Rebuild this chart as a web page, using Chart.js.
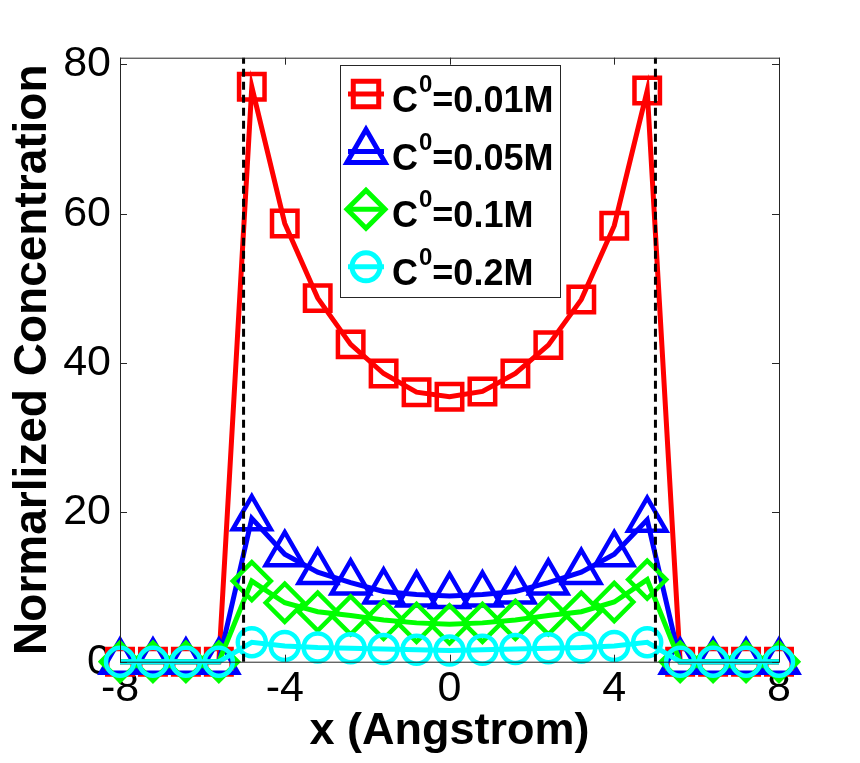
<!DOCTYPE html>
<html>
<head>
<meta charset="utf-8">
<script src="https://cdn.jsdelivr.net/npm/chart.js@4.4.0/dist/chart.umd.min.js"></script>
<style>
  html, body { margin: 0; padding: 0; background: #fff; }
  #wrap { width: 860px; height: 763px; }
</style>
</head>
<body>
<div id="wrap"><canvas id="myChart"></canvas></div>
<script>
// x positions (Angstrom), same for every curve
var xPos = [-8, -7.2, -6.4, -5.6, -4.8, -4, -3.2, -2.4, -1.6, -0.8, 0, 0.8, 1.6, 2.4, 3.2, 4, 4.8, 5.6, 6.4, 7.2, 8];
var c001 = [0, 0, 0, 0, 77.0, 58.7, 48.7, 42.5, 38.6, 36.1, 35.5, 36.2, 38.6, 42.4, 48.5, 58.4, 76.5, 0, 0, 0, 0];
var c005 = [0, 0, 0, 0, 19.2, 14.4, 12.0, 10.6, 9.4, 9.0, 8.8, 9.0, 9.4, 10.6, 12.0, 14.4, 19.0, 0, 0, 0, 0];
var c01 = [0, 0, 0, 0, 10.8, 7.9, 6.7, 6.2, 5.6, 5.2, 5.0, 5.2, 5.6, 6.2, 6.7, 8.0, 11.0, 0, 0, 0, 0];
var c02 = [0, 0, 0, 0, 2.6, 2.1, 1.9, 1.8, 1.7, 1.6, 1.5, 1.6, 1.7, 1.8, 1.9, 2.1, 2.6, 0, 0, 0, 0];
var concLabels = ["0.01M", "0.05M", "0.1M", "0.2M"];
var xTicks = [-8, -4, 0, 4, 8];
var yTicks = [0, 20, 40, 60, 80];
var wallX = [-5, 5];
var yTop = 80.9;

var FONT = "'Liberation Sans', Arial, sans-serif";

function toPoints(ys) {
  return xPos.map(function (x, i) { return { x: x, y: ys[i] }; });
}

function series(label, ys, color, style, radius, order) {
  return {
    label: label,
    data: toPoints(ys),
    borderColor: color,
    backgroundColor: color,
    borderWidth: 5,
    pointStyle: style,
    pointRadius: radius,
    pointBorderWidth: 4.5,
    pointBorderColor: color,
    pointBackgroundColor: "rgba(0,0,0,0)",
    tension: 0,
    clip: false,
    order: order
  };
}

function wall(x) {
  return {
    label: "",
    data: [{ x: x, y: 0 }, { x: x, y: yTop }],
    borderColor: "#000",
    borderWidth: 3,
    borderDash: [8, 5],
    pointRadius: 0,
    clip: false,
    order: 0,
    isWall: true
  };
}

// axes box with inward ticks, drawn over the curves like matlab does
var framePlugin = {
  id: "frame",
  afterDatasetsDraw: function (chart) {
    var ctx = chart.ctx, a = chart.chartArea;
    var sx = chart.scales.x, sy = chart.scales.y;
    var len = 7;
    ctx.save();
    ctx.strokeStyle = "#262626";
    ctx.lineWidth = 1;
    ctx.strokeRect(a.left + 0.5, a.top + 0.5, a.right - a.left, a.bottom - a.top);
    ctx.beginPath();
    xTicks.forEach(function (v) {
      var px = Math.round(sx.getPixelForValue(v)) + 0.5;
      ctx.moveTo(px, a.bottom); ctx.lineTo(px, a.bottom - len);
      ctx.moveTo(px, a.top); ctx.lineTo(px, a.top + len);
    });
    yTicks.forEach(function (v) {
      var py = Math.round(sy.getPixelForValue(v)) + 0.5;
      ctx.moveTo(a.left, py); ctx.lineTo(a.left + len, py);
      ctx.moveTo(a.right, py); ctx.lineTo(a.right - len, py);
    });
    ctx.stroke();
    ctx.restore();
  }
};

// legend with superscript 0 in C^0
var legendPlugin = {
  id: "supLegend",
  afterDraw: function (chart) {
    var ctx = chart.ctx;
    var bx = 340, by = 65, bw = 220, bh = 232;
    ctx.save();
    ctx.fillStyle = "#fff";
    ctx.fillRect(bx, by, bw, bh);
    ctx.strokeStyle = "#262626";
    ctx.lineWidth = 1;
    ctx.strokeRect(bx + 0.5, by + 0.5, bw, bh);
    var rows = chart.data.datasets.filter(function (d) { return !d.isWall; });
    rows.forEach(function (d, i) {
      var my = 94 + i * 57.6;
      var mx = 366;
      ctx.strokeStyle = d.borderColor;
      ctx.fillStyle = "rgba(0,0,0,0)";
      ctx.lineWidth = 5;
      ctx.beginPath();
      ctx.moveTo(mx - 18, my);
      ctx.lineTo(mx + 18, my);
      ctx.stroke();
      Chart.helpers.drawPoint(ctx, {
        pointStyle: d.pointStyle, rotation: 0, radius: d.pointRadius, borderWidth: 4.5
      }, mx, my);
      var base = my + 18;
      var tx = 392;
      ctx.fillStyle = "#000";
      ctx.textBaseline = "alphabetic";
      ctx.textAlign = "left";
      ctx.font = "bold 36px " + FONT;
      ctx.fillText("C", tx, base);
      tx += ctx.measureText("C").width + 1;
      ctx.font = "bold 24px " + FONT;
      ctx.fillText("0", tx, base - 20);
      tx += ctx.measureText("0").width;
      ctx.font = "bold 36px " + FONT;
      ctx.fillText("=" + concLabels[i], tx, base);
    });
    ctx.restore();
  }
};

window.addEventListener("load", function () {
  var ctx = document.getElementById("myChart");
  new Chart(ctx, {
    type: "line",
    data: {
      datasets: [
        series("C\u2070=" + concLabels[0], c001, "#ff0000", "rect", 18, 4),
        series("C\u2070=" + concLabels[1], c005, "#0000ff", "triangle", 22, 3),
        series("C\u2070=" + concLabels[2], c01, "#00ff00", "rectRot", 19, 2),
        series("C\u2070=" + concLabels[3], c02, "#00ffff", "circle", 14, 1),
        wall(wallX[0]),
        wall(wallX[1])
      ]
    },
    options: {
      responsive: true,
      maintainAspectRatio: false,
      devicePixelRatio: 1,
      animation: false,
      layout: { padding: { top: 57.7, right: 81, bottom: 0, left: 0 } },
      plugins: {
        legend: { display: false },
        tooltip: { enabled: false }
      },
      scales: {
        x: {
          type: "linear",
          min: -8,
          max: 8,
          afterBuildTicks: function (s) { s.ticks = xTicks.map(function (v) { return { value: v }; }); },
          afterFit: function (s) { s.height = 101.3; },
          grid: { display: false, drawTicks: false },
          border: { display: false },
          ticks: {
            color: "#000",
            padding: 2,
            maxRotation: 0,
            autoSkip: false,
            font: { family: FONT, size: 43 },
            callback: function (v) { return String(v); }
          },
          title: {
            display: true,
            text: "x (Angstrom)",
            color: "#000",
            font: { family: FONT, size: 45, weight: "bold" },
            padding: { top: 0, bottom: 4 }
          }
        },
        y: {
          min: 0,
          max: yTop,
          afterBuildTicks: function (s) { s.ticks = yTicks.map(function (v) { return { value: v }; }); },
          afterFit: function (s) { s.width = 120; },
          grid: { display: false, drawTicks: false },
          border: { display: false },
          ticks: {
            color: "#000",
            padding: 9,
            font: { family: FONT, size: 43 },
            callback: function (v) { return String(v); }
          },
          title: {
            display: true,
            text: "Normarlized Concentration",
            color: "#000",
            font: { family: FONT, size: 46, weight: "bold" },
            padding: { top: 6, bottom: 0 }
          }
        }
      }
    },
    plugins: [framePlugin, legendPlugin]
  });
});
</script>
</body>
</html>
